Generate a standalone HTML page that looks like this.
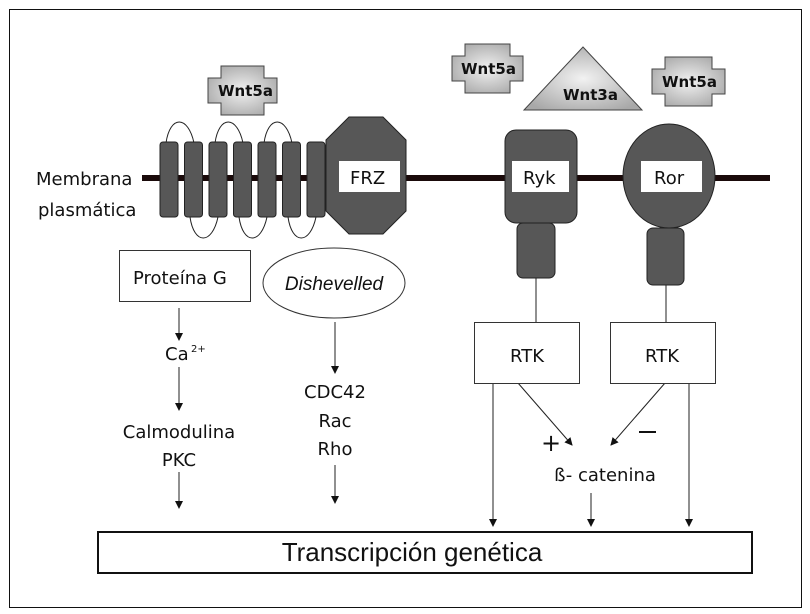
<!DOCTYPE html>
<html><head><meta charset="utf-8"><style>
html,body{margin:0;padding:0;background:#fff;}
svg{display:block;}
text{font-family:"DejaVu Sans","Liberation Sans",sans-serif;fill:#111;}
</style></head><body>
<svg width="810" height="614" viewBox="0 0 810 614" xmlns="http://www.w3.org/2000/svg">
<defs>
<radialGradient id="g" cx="50%" cy="50%" r="60%"><stop offset="0" stop-color="#f2f2f2"/><stop offset="1" stop-color="#a8a8a8"/></radialGradient>
<marker id="a" markerWidth="8" markerHeight="8" refX="7" refY="4" orient="auto" markerUnits="userSpaceOnUse"><path d="M0,0 L8,4 L0,8 z" fill="#111"/></marker>
</defs>
<rect x="9.5" y="9.5" width="792" height="598" fill="none" stroke="#111" stroke-width="1"/>

<rect x="142" y="175" width="628" height="6" fill="#1a0a0a"/>
<text x="36" y="185" font-size="18">Membrana</text>
<text x="38" y="216" font-size="18">plasmática</text>

<g fill="none" stroke="#222" stroke-width="1">
<path d="M166,143 C170,115 188,115 194,143"/>
<path d="M215,143 C219,115 237,115 243,143"/>
<path d="M264,143 C268,115 286,115 292,143"/>
<path d="M190,217 C194,245 212,245 218,217"/>
<path d="M239,217 C243,245 261,245 267,217"/>
<path d="M288,217 C292,245 310,245 316,217"/>
</g>
<g fill="#575757" stroke="#222" stroke-width="1">
<rect x="160" y="142" width="18" height="75" rx="3"/>
<rect x="184.5" y="142" width="18" height="75" rx="3"/>
<rect x="209" y="142" width="18" height="75" rx="3"/>
<rect x="233.5" y="142" width="18" height="75" rx="3"/>
<rect x="258" y="142" width="18" height="75" rx="3"/>
<rect x="282.5" y="142" width="18" height="75" rx="3"/>
<rect x="307" y="142" width="18" height="75" rx="3"/>
<polygon points="349,117 383,117 406,140 406,211 383,234 349,234 326,211 326,140"/>
<rect x="505" y="130" width="72" height="93" rx="11"/>
<rect x="517" y="223" width="38" height="55" rx="6"/>
<rect x="647" y="228" width="37" height="57" rx="6"/>
<ellipse cx="669" cy="176" rx="46" ry="52"/>
</g>
<rect x="339" y="161" width="61" height="31" fill="#fff"/>
<text x="350" y="184" font-size="18">FRZ</text>
<rect x="512" y="161" width="57" height="31" fill="#fff"/>
<text x="523" y="184" font-size="18">Ryk</text>
<rect x="641" y="161" width="61" height="31" fill="#fff"/>
<text x="654" y="184" font-size="18">Ror</text>

<g fill="url(#g)" stroke="#444" stroke-width="1">
<polygon points="221,66 264,66 264,78 277,78 277,103 264,103 264,115 221,115 221,103 208,103 208,78 221,78"/>
<polygon points="465,44 510,44 510,56 523,56 523,81 510,81 510,93 465,93 465,81 452,81 452,56 465,56"/>
<polygon points="665,57 712,57 712,69 725,69 725,94 712,94 712,106 665,106 665,94 652,94 652,69 665,69"/>
<polygon points="583,47 642,110 524,110"/>
</g>
<g font-family="Liberation Sans,sans-serif" font-weight="bold" font-size="15">
<text x="218" y="96">Wnt5a</text>
<text x="461" y="74">Wnt5a</text>
<text x="662" y="87">Wnt5a</text>
<text x="563" y="100">Wnt3a</text>
</g>

<rect x="119.5" y="250.5" width="131" height="51" fill="#fff" stroke="#333"/>
<text x="133" y="284" font-size="18">Proteína G</text>
<ellipse cx="334" cy="283" rx="71" ry="35" fill="#fff" stroke="#333"/>
<text x="334" y="290" font-size="19" font-style="italic" text-anchor="middle" style="font-family:'Liberation Sans',sans-serif">Dishevelled</text>
<g stroke="#222" stroke-width="1" marker-end="url(#a)">
<line x1="179" y1="308" x2="179" y2="340"/>
<line x1="179" y1="367" x2="179" y2="410"/>
<line x1="179" y1="472" x2="179" y2="508"/>
<line x1="335" y1="322" x2="335" y2="373"/>
<line x1="335" y1="465" x2="335" y2="503"/>
<line x1="536" y1="278" x2="536" y2="322" marker-end="none"/>
<line x1="666" y1="285" x2="666" y2="322" marker-end="none"/>
<line x1="493" y1="383" x2="493" y2="526"/>
<line x1="689" y1="383" x2="689" y2="526"/>
<line x1="591" y1="493" x2="591" y2="526"/>
<line x1="518" y1="383" x2="572" y2="445"/>
<line x1="665" y1="383" x2="611" y2="445"/>
</g>
<text x="165" y="360" font-size="18">Ca</text><text x="191" y="352" font-size="10">2+</text>
<text x="179" y="438" font-size="18" text-anchor="middle">Calmodulina</text>
<text x="179" y="466" font-size="18" text-anchor="middle">PKC</text>
<text x="335" y="398" font-size="18" text-anchor="middle">CDC42</text>
<text x="335" y="427" font-size="18" text-anchor="middle">Rac</text>
<text x="335" y="455" font-size="18" text-anchor="middle">Rho</text>

<rect x="474.5" y="322.5" width="105" height="61" fill="#fff" stroke="#333"/>
<text x="527" y="362" font-size="18" text-anchor="middle">RTK</text>
<rect x="610.5" y="322.5" width="105" height="61" fill="#fff" stroke="#333"/>
<text x="662" y="362" font-size="18" text-anchor="middle">RTK</text>
<text x="551" y="451" font-size="24" text-anchor="middle">+</text>
<rect x="639" y="431" width="17" height="2" fill="#111"/>
<text x="605" y="481" font-size="18" text-anchor="middle">ß- catenina</text>

<rect x="98" y="532" width="654" height="41" fill="#fff" stroke="#111" stroke-width="2"/>
<text x="412" y="561" font-size="26" text-anchor="middle" style="font-family:'Liberation Sans',sans-serif">Transcripción genética</text>
</svg>
</body></html>
